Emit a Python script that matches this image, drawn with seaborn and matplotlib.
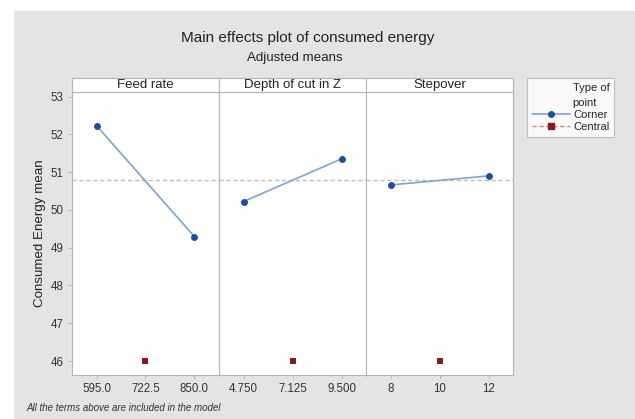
import matplotlib
matplotlib.use("Agg")
import matplotlib.pyplot as plt
from matplotlib.lines import Line2D
from matplotlib.patches import Rectangle
import pandas as pd
import seaborn as sns

# data
factors = ["Feed rate", "Depth of cut in Z", "Stepover"]
feed_levels = [595.0, 722.5, 850.0]
depth_levels = [4.750, 7.125, 9.500]
stepover_levels = [8, 10, 12]
feed_labels = ["595.0", "722.5", "850.0"]
depth_labels = ["4.750", "7.125", "9.500"]
stepover_labels = ["8", "10", "12"]
feed_corner = [52.23, 49.29]
depth_corner = [50.22, 51.35]
stepover_corner = [50.66, 50.90]
central_mean = [46.0, 46.0, 46.0]
overall_mean = 50.78
y_ticks = [46, 47, 48, 49, 50, 51, 52, 53]

levels = [feed_levels, depth_levels, stepover_levels]
labels = [feed_labels, depth_labels, stepover_labels]
corners = [feed_corner, depth_corner, stepover_corner]

rows = []
for f, lv, cm, ce in zip(factors, levels, corners, central_mean):
    rows.append({"factor": f, "level": lv[0], "mean": cm[0], "type": "Corner"})
    rows.append({"factor": f, "level": lv[2], "mean": cm[1], "type": "Corner"})
    rows.append({"factor": f, "level": lv[1], "mean": ce, "type": "Central"})
df = pd.DataFrame(rows)

sns.set_style("white")
plt.rcParams["font.family"] = ["Liberation Sans", "DejaVu Sans"]

bg = "#e4e4e4"
edge = "#b4b4b4"
blue_line = "#7aa6d6"
blue_pt = "#1d4f9a"
red = "#8e1620"

W, H = 635, 419
fig = plt.figure(figsize=(W / 100, H / 100), dpi=100)
fig.patch.set_facecolor("white")
fig.patches.append(Rectangle((14 / W, 0), 1 - 14 / W, 1 - 11 / H, transform=fig.transFigure,
                             facecolor=bg, edgecolor="none", zorder=-10))

left, right = 72 / W, 513 / W
bottom, top = 1 - 375 / H, 1 - 92 / H
pw = (right - left) / 3
axes = []
for i in range(3):
    ax = fig.add_axes([left + i * pw, bottom, pw, top - bottom])
    axes.append(ax)

strip_h = 14 / 283
for i, ax in enumerate(axes):
    sub = df[df["factor"] == factors[i]]
    ax.axhline(overall_mean, color="#bcbcbc", ls=(0, (3, 2)), lw=1, zorder=1)
    sns.lineplot(data=sub[sub["type"] == "Corner"], x="level", y="mean", ax=ax,
                 color=blue_line, lw=1.2, marker="o", markersize=4.2,
                 markerfacecolor=blue_pt, markeredgecolor=blue_pt, zorder=3)
    sns.scatterplot(data=sub[sub["type"] == "Central"], x="level", y="mean", ax=ax,
                    color=red, marker="s", s=22, edgecolor=red, linewidth=0, zorder=3)
    lv = levels[i]
    span = lv[2] - lv[0]
    ax.set_xlim(lv[0] - span / 4, lv[2] + span / 4)
    ax.set_ylim(45.63, 53.12)
    ax.set_xticks(lv)
    ax.set_xticklabels(labels[i])
    ax.set_yticks(y_ticks)
    ax.set_xlabel("")
    ax.set_ylabel("")
    ax.set_facecolor("white")
    for s in ax.spines.values():
        s.set_color(edge)
        s.set_linewidth(0.8)
    ax.tick_params(axis="both", direction="out", length=3, width=0.6, color=edge,
                   labelsize=8.3, labelcolor="#333333", pad=3, bottom=True, left=True)
    if i > 0:
        ax.tick_params(axis="y", left=False, labelleft=False)
    # strip header
    ax.add_patch(Rectangle((0, 1), 1, strip_h, transform=ax.transAxes, clip_on=False,
                           facecolor="white", edgecolor=edge, lw=0.8))
    ax.text(0.5, 1 + strip_h / 2, factors[i], transform=ax.transAxes, ha="center",
            va="center", fontsize=9.5, color="#222222")

axes[0].set_ylabel("Consumed Energy mean", fontsize=9.6, color="#222222", labelpad=3)

fig.text(308 / W, 1 - 38 / H, "Main effects plot of consumed energy", ha="center", va="center",
         fontsize=11, color="#222222")
fig.text(295 / W, 1 - 58 / H, "Adjusted means", ha="center", va="center",
         fontsize=9.6, color="#222222")
fig.text(26 / W, 1 - 408 / H, "All the terms above are included in the model", ha="left",
         va="center", fontsize=7, style="italic", color="#333333")

handles = [
    Line2D([], [], color=blue_line, lw=1.2, marker="o", markersize=4,
           markerfacecolor=blue_pt, markeredgecolor=blue_pt),
    Line2D([], [], color="#d08a90", lw=1, ls=(0, (3, 2)), marker="s", markersize=4,
           markerfacecolor=red, markeredgecolor=red),
]
leg = fig.legend(handles, ["Corner", "Central"], title="Type of\npoint",
                 loc="upper left", bbox_to_anchor=(527 / W, 1 - 78 / H),
                 fontsize=8, title_fontsize=8, frameon=True, fancybox=False,
                 handlelength=3.4, handletextpad=0.3, borderpad=0.45, labelspacing=0.2,
                 borderaxespad=0)
leg.get_frame().set_edgecolor(edge)
leg.get_frame().set_linewidth(0.8)
leg._legend_box.align = "right"
leg.get_title().set_color("#222222")
leg.get_title().set_linespacing(1.6)
for t in leg.get_texts():
    t.set_color("#222222")

fig.savefig("out.png", dpi=100, facecolor=fig.get_facecolor())
